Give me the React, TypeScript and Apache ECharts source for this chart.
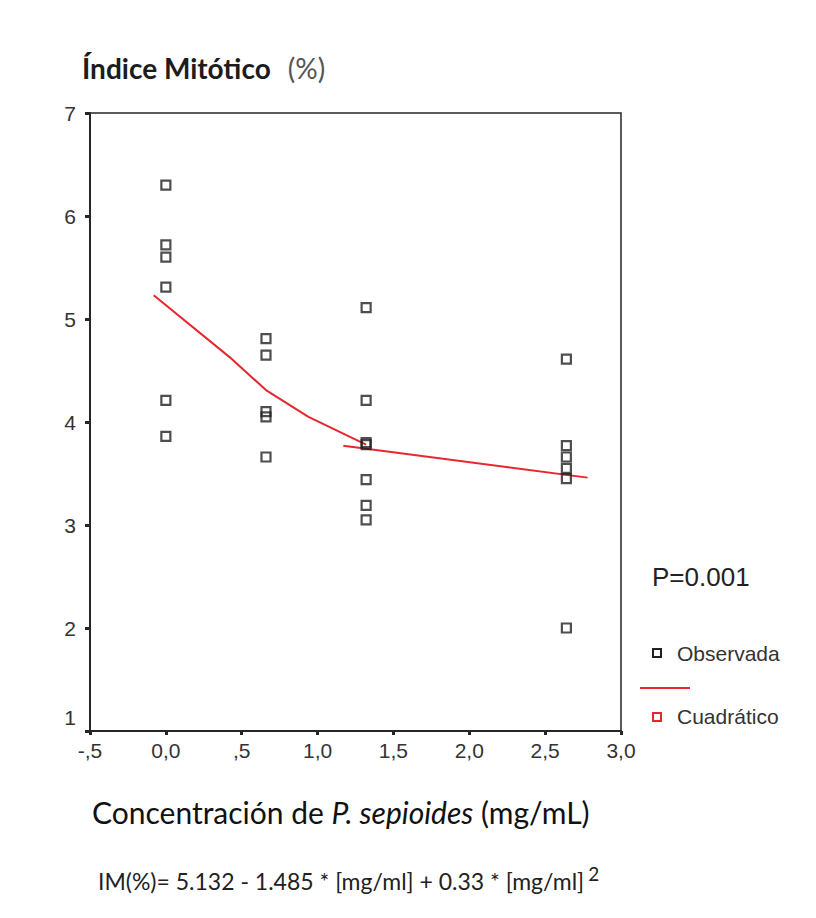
import React, { useEffect, useRef } from "react";
import * as echarts from "echarts";

// Concentrations (mg/mL) of each group
const doses = [0, 0.66, 1.32, 2.64];
// Observed mitotic index (%) per group
const obsDose0 = [6.3, 5.72, 5.6, 5.31, 4.21, 3.86];
const obsDose066 = [4.81, 4.65, 4.1, 4.05, 3.66];
const obsDose132 = [5.11, 4.21, 3.8, 3.78, 3.44, 3.19, 3.05];
const obsDose264 = [4.61, 3.77, 3.66, 3.55, 3.45, 2.0];
// Quadratic fit as drawn
const fitX = [-0.08, 0.42, 0.66, 0.94, 1.32];
const fitY = [5.23, 4.63, 4.31, 4.05, 3.78];
const fit2X = [1.17, 2.78];
const fit2Y = [3.77, 3.46];
// Tick labels
const xTickValues = [-0.5, 0, 0.5, 1, 1.5, 2, 2.5, 3];
const xTickLabels = ["-,5", "0,0", ",5", "1,0", "1,5", "2,0", "2,5", "3,0"];
const yTickValues = [1, 2, 3, 4, 5, 6, 7];
const yTickLabels = ["1", "2", "3", "4", "5", "6", "7"];

const groups = [obsDose0, obsDose066, obsDose132, obsDose264];

export default function App() {
  const ref = useRef<HTMLDivElement>(null);
  useEffect(() => {
    if (!ref.current) return;
    const chart = echarts.init(ref.current, null, { renderer: "svg" });
    const observed: number[][] = [];
    groups.forEach((g, i) => g.forEach((v) => observed.push([doses[i], v])));
    const fit1 = fitX.map((x, i) => [x, fitY[i]]);
    const fit2 = fit2X.map((x, i) => [x, fit2Y[i]]);
    const red = "#e8262e";
    const dark = "#262626";
    const labelFont = "'Liberation Sans', Arial, sans-serif";
    const labelColor = "#333333";
    chart.setOption({
      animation: false,
      backgroundColor: "#ffffff",
      grid: {
        left: 90,
        right: 195,
        top: 113,
        bottom: 187,
        show: true,
        borderColor: dark,
        borderWidth: 1.5,
        backgroundColor: "transparent",
      },
      xAxis: {
        type: "value",
        min: -0.5,
        max: 3,
        interval: 0.5,
        splitLine: { show: false },
        axisLine: { show: true, onZero: false, lineStyle: { color: dark, width: 2 } },
        axisTick: { show: true, length: 4, lineStyle: { color: dark, width: 3 } },
        axisLabel: {
          color: labelColor,
          fontFamily: labelFont,
          fontSize: 21,
          margin: 9,
          formatter: (v: number) => {
            const i = xTickValues.findIndex((t) => Math.abs(t - v) < 1e-6);
            return i >= 0 ? xTickLabels[i] : "";
          },
        },
      },
      yAxis: {
        type: "value",
        min: 1,
        max: 7,
        interval: 1,
        splitLine: { show: false },
        axisLine: { show: true, onZero: false, lineStyle: { color: dark, width: 2 } },
        axisTick: { show: true, length: 5, lineStyle: { color: dark, width: 3 } },
        axisLabel: {
          color: labelColor,
          fontFamily: labelFont,
          fontSize: 21,
          margin: 14,
          formatter: (v: number) => {
            const i = yTickValues.findIndex((t) => Math.abs(t - v) < 1e-6);
            if (i < 0) return "";
            return i === 0 ? "{up|" + yTickLabels[i] + "}" : yTickLabels[i];
          },
          rich: {
            up: {
              color: labelColor,
              fontFamily: labelFont,
              fontSize: 21,
              padding: [0, 0, 28, 0],
            },
          },
        },
      },
      series: [
        {
          name: "Cuadrático",
          type: "line",
          data: fit1,
          showSymbol: false,
          symbol: "none",
          lineStyle: { color: red, width: 2 },
          z: 3,
        },
        {
          name: "Cuadrático2",
          type: "line",
          data: fit2,
          showSymbol: false,
          symbol: "none",
          lineStyle: { color: red, width: 2 },
          z: 3,
        },
        {
          name: "Observada",
          type: "scatter",
          data: observed,
          symbol: "rect",
          symbolSize: 9,
          itemStyle: { color: "rgba(0,0,0,0)", borderColor: "#222222", borderWidth: 2.2 },
          z: 4,
        },
      ],
      graphic: [
        {
          type: "text",
          left: 82,
          top: 54,
          style: {
            text: "{b|Índice Mitótico}{n|(%)}",
            rich: {
              b: { fontFamily: "Lato, sans-serif", fontWeight: "bold", fontSize: 28, fill: "#1c1c1c" },
              n: {
                fontFamily: "Lato, sans-serif",
                fontWeight: "normal",
                fontSize: 28,
                fill: "#555555",
                padding: [0, 0, 0, 17],
              },
            },
          },
        },
        {
          type: "text",
          left: 92,
          top: 797,
          style: {
            text: "{r|Concentración de }{i|P. sepioides}{r| (mg/mL)}",
            rich: {
              r: { fontFamily: "Lato, sans-serif", fontSize: 30, fill: "#111111" },
              i: { fontFamily: "Lato, sans-serif", fontSize: 30, fontStyle: "italic", fill: "#111111" },
            },
          },
        },
        {
          type: "text",
          left: 98,
          top: 864,
          style: {
            text: "{e|IM(%)= 5.132 - 1.485 * [mg/ml] + 0.33 * [mg/ml]}{s|2}",
            rich: {
              e: { fontFamily: "Lato, sans-serif", fontSize: 23, fill: "#222222" },
              s: { fontFamily: "Lato, sans-serif", fontSize: 19, fill: "#222222", padding: [0, 0, 14, 4] },
            },
          },
        },
        {
          type: "text",
          left: 652,
          top: 564,
          style: {
            text: "P=0.001",
            fontFamily: labelFont,
            fontSize: 26,
            fill: "#222222",
          },
        },
        {
          type: "rect",
          shape: { x: 653, y: 649, width: 8, height: 8 },
          style: { fill: "none", stroke: "#222222", lineWidth: 2 },
        },
        {
          type: "text",
          left: 677,
          top: 643,
          style: { text: "Observada", fontFamily: labelFont, fontSize: 21, fill: "#333333" },
        },
        {
          type: "line",
          shape: { x1: 640, y1: 688, x2: 690, y2: 688 },
          style: { stroke: red, lineWidth: 2 },
        },
        {
          type: "rect",
          shape: { x: 653, y: 713, width: 8, height: 8 },
          style: { fill: "none", stroke: red, lineWidth: 2 },
        },
        {
          type: "text",
          left: 677,
          top: 706,
          style: { text: "Cuadrático", fontFamily: labelFont, fontSize: 21, fill: "#333333" },
        },
      ],
    });
    return () => chart.dispose();
  }, []);
  return (
    <div
      ref={ref}
      style={{ position: "fixed", left: 0, top: 0, width: 816, height: 918, background: "#fff" }}
    />
  );
}
